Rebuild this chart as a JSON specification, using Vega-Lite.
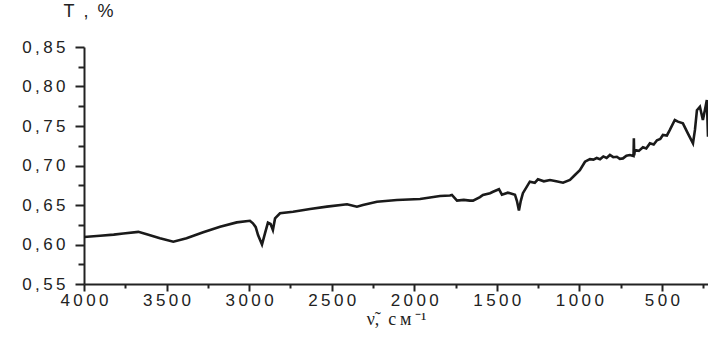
{
  "$schema": "https://vega.github.io/schema/vega-lite/v6.json",
  "width": 624,
  "height": 237,
  "autosize": {"type": "none"},
  "padding": {"left": 84, "top": 47, "right": 0, "bottom": 56},
  "background": "white",
  "config": {"view": {"stroke": null}},
  "data": {"values": [
    {"v": 4000, "t": 0.6095}, {"v": 3903, "t": 0.611}, {"v": 3820, "t": 0.6125}, {"v": 3762, "t": 0.614}, {"v": 3671, "t": 0.616},
    {"v": 3620, "t": 0.613}, {"v": 3540, "t": 0.608}, {"v": 3459, "t": 0.6036}, {"v": 3379, "t": 0.6078}, {"v": 3278, "t": 0.6154},
    {"v": 3176, "t": 0.6226}, {"v": 3075, "t": 0.628}, {"v": 2995, "t": 0.630}, {"v": 2977, "t": 0.6268}, {"v": 2960, "t": 0.622},
    {"v": 2946, "t": 0.612}, {"v": 2922, "t": 0.600}, {"v": 2904, "t": 0.614}, {"v": 2886, "t": 0.6276}, {"v": 2870, "t": 0.626},
    {"v": 2856, "t": 0.6184}, {"v": 2843, "t": 0.633}, {"v": 2813, "t": 0.6395}, {"v": 2734, "t": 0.6415}, {"v": 2631, "t": 0.645},
    {"v": 2529, "t": 0.6479}, {"v": 2407, "t": 0.6509}, {"v": 2347, "t": 0.6479}, {"v": 2311, "t": 0.650}, {"v": 2226, "t": 0.6542},
    {"v": 2105, "t": 0.6563}, {"v": 1965, "t": 0.6576}, {"v": 1844, "t": 0.6614}, {"v": 1784, "t": 0.662}, {"v": 1772, "t": 0.6627},
    {"v": 1741, "t": 0.6555}, {"v": 1700, "t": 0.6565}, {"v": 1663, "t": 0.6555}, {"v": 1644, "t": 0.6555}, {"v": 1602, "t": 0.660},
    {"v": 1584, "t": 0.6627}, {"v": 1541, "t": 0.665}, {"v": 1523, "t": 0.6668}, {"v": 1487, "t": 0.670}, {"v": 1469, "t": 0.663},
    {"v": 1433, "t": 0.6656}, {"v": 1390, "t": 0.663}, {"v": 1378, "t": 0.655}, {"v": 1366, "t": 0.643}, {"v": 1355, "t": 0.655},
    {"v": 1342, "t": 0.665}, {"v": 1300, "t": 0.6795}, {"v": 1270, "t": 0.678}, {"v": 1251, "t": 0.6825}, {"v": 1215, "t": 0.680},
    {"v": 1178, "t": 0.6817}, {"v": 1140, "t": 0.680}, {"v": 1099, "t": 0.6782}, {"v": 1057, "t": 0.6817}, {"v": 1027, "t": 0.688},
    {"v": 997, "t": 0.694}, {"v": 966, "t": 0.7048}, {"v": 936, "t": 0.708}, {"v": 915, "t": 0.7075}, {"v": 895, "t": 0.7095},
    {"v": 875, "t": 0.708}, {"v": 855, "t": 0.7115}, {"v": 835, "t": 0.7095}, {"v": 815, "t": 0.7133}, {"v": 795, "t": 0.7105},
    {"v": 773, "t": 0.7111}, {"v": 755, "t": 0.7085}, {"v": 736, "t": 0.709}, {"v": 715, "t": 0.7125}, {"v": 694, "t": 0.7133},
    {"v": 672, "t": 0.712}, {"v": 670, "t": 0.7344}, {"v": 668, "t": 0.713}, {"v": 664, "t": 0.7196}, {"v": 640, "t": 0.7185},
    {"v": 615, "t": 0.723}, {"v": 595, "t": 0.7215}, {"v": 573, "t": 0.728}, {"v": 550, "t": 0.7265}, {"v": 530, "t": 0.732},
    {"v": 510, "t": 0.7335}, {"v": 494, "t": 0.7386}, {"v": 470, "t": 0.738}, {"v": 452, "t": 0.745}, {"v": 422, "t": 0.7576},
    {"v": 403, "t": 0.7555}, {"v": 373, "t": 0.7534}, {"v": 343, "t": 0.7407}, {"v": 312, "t": 0.728}, {"v": 300, "t": 0.745},
    {"v": 288, "t": 0.770}, {"v": 270, "t": 0.7744}, {"v": 252, "t": 0.7576}, {"v": 240, "t": 0.770}, {"v": 228, "t": 0.783},
    {"v": 221, "t": 0.7365}
  ]},
  "mark": {"type": "line", "color": "#1a1a1a", "strokeWidth": 2.6, "clip": true},
  "encoding": {
    "x": {
      "field": "v", "type": "quantitative",
      "scale": {"domain": [221, 4000], "reverse": true, "nice": false, "zero": false},
      "axis": {
        "values": [4000, 3750, 3500, 3250, 3000, 2750, 2500, 2250, 2000, 1750, 1500, 1250, 1000, 750, 500, 250],
        "labelExpr": "datum.value % 500 == 0 ? join(split(format(datum.value, 'd'), ''), '\u2009') : ''",
        "grid": false,
        "domainColor": "#222", "domainWidth": 2,
        "tickColor": "#222", "tickWidth": 2,
        "tickSize": {"condition": {"test": "datum.value % 500 == 0", "value": 7}, "value": 4},
        "labelFont": "Liberation Sans", "labelFontSize": 17, "labelColor": "#222",
        "labelPadding": 1, "labelFlush": false, "labelOverlap": false,
        "title": "ν̃,\u2002с\u2009м\u2009⁻¹",
        "titleFont": "Liberation Serif", "titleFontSize": 18, "titleFontWeight": "normal", "titleColor": "#222",
        "titlePadding": 2
      }
    },
    "y": {
      "field": "t", "type": "quantitative",
      "scale": {"domain": [0.55, 0.85], "nice": false, "zero": false},
      "axis": {
        "values": [0.55, 0.575, 0.6, 0.625, 0.65, 0.675, 0.7, 0.725, 0.75, 0.775, 0.8, 0.825, 0.85],
        "labelExpr": "round(datum.value * 1000) % 50 == 0 ? join(split(replace(format(datum.value, '.2f'), '.', ','), ''), '\u2009') : ''",
        "grid": false,
        "domainColor": "#222", "domainWidth": 2,
        "tickColor": "#222", "tickWidth": 2,
        "tickSize": {"condition": {"test": "round(datum.value * 1000) % 50 == 0", "value": 9}, "value": 6},
        "labelFont": "Liberation Sans", "labelFontSize": 17, "labelColor": "#222",
        "labelPadding": 10, "labelFlush": false, "labelOverlap": false,
        "title": "T\u2002,\u2002%",
        "titleFont": "Liberation Sans", "titleFontSize": 18, "titleFontWeight": "normal", "titleColor": "#222",
        "titleAngle": 0, "titleAlign": "left", "titleBaseline": "middle",
        "titleX": -21, "titleY": -36
      }
    }
  }
}
